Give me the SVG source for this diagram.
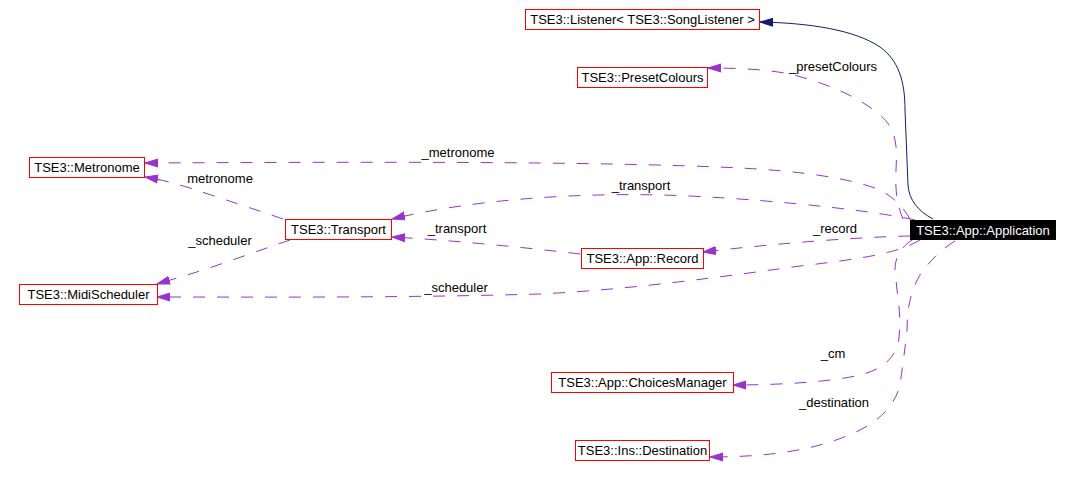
<svg xmlns="http://www.w3.org/2000/svg" width="1070" height="480" viewBox="0 0 1070 480">
<style>
  .node rect { fill: #ffffff; stroke: #ff0000; stroke-width: 1; }
  .node text { font-family: "Liberation Sans", Arial, sans-serif; font-size: 13px; fill: #000000; text-anchor: middle; }
  #n_app rect { fill: #000000; stroke: #000000; }
  #n_app text { fill: #ffffff; }
  .edge { fill: none; stroke: #9a32cd; stroke-width: 1; stroke-dasharray: 12,12; marker-end: url(#ap); }
  .inh { fill: none; stroke: #191970; stroke-width: 1; marker-end: url(#an); }
  .lbl { font-family: "Liberation Sans", Arial, sans-serif; font-size: 13px; fill: #000000; text-anchor: middle; }
</style>
<defs>
  <marker id="ap" markerUnits="userSpaceOnUse" markerWidth="14" markerHeight="10" refX="13" refY="5" orient="auto">
    <path d="M0,1 L13,5 L0,9 z" fill="#9a32cd" stroke="#9a32cd" stroke-width="1"/>
  </marker>
  <marker id="an" markerUnits="userSpaceOnUse" markerWidth="14" markerHeight="10" refX="13" refY="5" orient="auto">
    <path d="M0,1 L13,5 L0,9 z" fill="#191970" stroke="#191970" stroke-width="1"/>
  </marker>
</defs>
<rect x="0" y="0" width="1070" height="480" fill="#ffffff"/>
<g id="connectors">
  <g id="e_listener">
    <path class="inh" d="M 933,219 C 918,211 909,200 908,185 L 905,110 C 905,80 898,60 880,47 C 855,30 810,23 760,22"/>
  </g>
  <g id="e_preset">
    <path class="edge" d="M 903,219 C 897,205 895,190 896,170 C 897,150 898,130 880,115 C 860,98 830,84 790,74 C 765,69 735,68 708,68"/>
    <text class="lbl" x="833" y="71">_presetColours</text>
  </g>
  <g id="e_metronome">
    <path class="edge" d="M 910,219 C 903,207 895,198 880,190 C 850,178 800,171 740,168 C 600,161 350,162 145,163"/>
    <text class="lbl" x="458" y="157">_metronome</text>
  </g>
  <g id="e_transport1">
    <path class="edge" d="M 915,220 C 880,212 790,201 690,196 C 580,191 470,200 392,219"/>
    <text class="lbl" x="641" y="190">_transport</text>
  </g>
  <g id="e_transport2">
    <path class="edge" d="M 580,254 C 530,248 450,240 392,237"/>
    <text class="lbl" x="457" y="233">_transport</text>
  </g>
  <g id="e_record">
    <path class="edge" d="M 910,236 C 860,237 780,243 703,252"/>
    <text class="lbl" x="835" y="233">_record</text>
  </g>
  <g id="e_scheduler1">
    <path class="edge" d="M 920,240 C 900,252 870,258 800,266 C 700,280 620,290 540,294 C 400,298 250,297 157,297"/>
    <text class="lbl" x="456" y="292">_scheduler</text>
  </g>
  <g id="e_metronome2">
    <path class="edge" d="M 283,219 C 260,211 220,198 190,188 C 170,182 158,179 145,177"/>
    <text class="lbl" x="220" y="183">metronome</text>
  </g>
  <g id="e_scheduler2">
    <path class="edge" d="M 290,240 C 260,250 220,265 187,275 L 157,284"/>
    <text class="lbl" x="220" y="245">_scheduler</text>
  </g>
  <g id="e_cm">
    <path class="edge" d="M 912,240 C 900,248 895,258 895,270 L 897,290 C 899,305 901,320 899,338 C 896,360 880,370 860,375 C 830,382 780,385 733,385"/>
    <text class="lbl" x="833" y="358">_cm</text>
  </g>
  <g id="e_destination">
    <path class="edge" d="M 955,241 C 940,250 928,263 920,275 C 910,292 907,310 907,330 C 905,350 902,370 900,385 C 895,405 880,420 860,430 C 820,450 770,457 710,457"/>
    <text class="lbl" x="834" y="407">_destination</text>
  </g>
</g>
<g id="n_listener" class="node"><rect x="525.5" y="9.5" width="234" height="20"/><text x="642.5" y="24">TSE3::Listener&lt; TSE3::SongListener &gt;</text></g>
<g id="n_preset" class="node"><rect x="577.5" y="67.5" width="130" height="20"/><text x="642.5" y="82">TSE3::PresetColours</text></g>
<g id="n_metronome" class="node"><rect x="29.5" y="157.5" width="115" height="20"/><text x="87" y="172">TSE3::Metronome</text></g>
<g id="n_transport" class="node"><rect x="285.5" y="219.5" width="106" height="20"/><text x="338.5" y="234">TSE3::Transport</text></g>
<g id="n_app" class="node"><rect x="910.5" y="220.5" width="145" height="19"/><text x="983" y="235">TSE3::App::Application</text></g>
<g id="n_record" class="node"><rect x="581.5" y="248.5" width="122" height="20"/><text x="642.5" y="263">TSE3::App::Record</text></g>
<g id="n_midischeduler" class="node"><rect x="19.5" y="284.5" width="138" height="20"/><text x="88.5" y="299">TSE3::MidiScheduler</text></g>
<g id="n_choices" class="node"><rect x="551.5" y="372.5" width="182" height="20"/><text x="642.5" y="387">TSE3::App::ChoicesManager</text></g>
<g id="n_destination" class="node"><rect x="575.5" y="440.5" width="134" height="20"/><text x="642.5" y="455">TSE3::Ins::Destination</text></g>
</svg>
